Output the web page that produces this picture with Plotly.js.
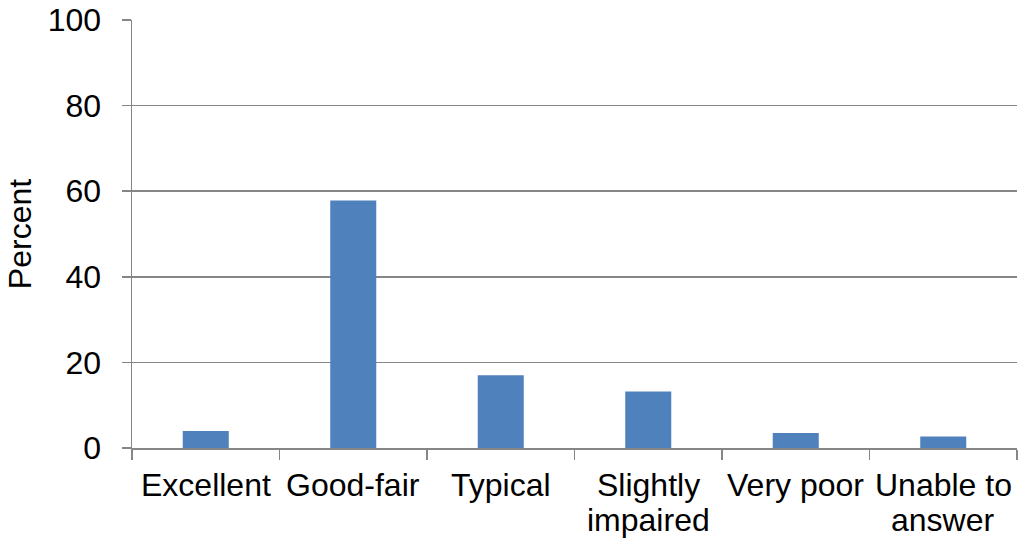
<!DOCTYPE html>
<html>
<head>
<meta charset="utf-8">
<script src="https://cdn.plot.ly/plotly-3.0.1.min.js"></script>
<style>html,body{margin:0;padding:0;background:#fff;}#chart{width:1019px;height:541px;}</style>
</head>
<body>
<div id="chart"></div>
<script>
const categories = ["Excellent", "Good-fair", "Typical", "Slightly impaired", "Very poor", "Unable to answer"];
const categoryLabelLines = [["Excellent"], ["Good-fair"], ["Typical"], ["Slightly", "impaired"], ["Very poor"], ["Unable to", "answer"]];
const percentValues = [4.0, 57.8, 17.0, 13.2, 3.5, 2.7];
const yTickValues = [0, 20, 40, 60, 80, 100];

const FONT = "Liberation Sans, Arial, sans-serif";
const GRAY = "#868686";

const annotations = [];
categories.forEach(function (cat, i) {
  categoryLabelLines[i].forEach(function (line, j) {
    annotations.push({
      x: cat, xref: "x",
      y: 0, yref: "paper",
      yanchor: "top", xanchor: "center",
      yshift: -18 - j * 35,
      borderpad: 0,
      text: line,
      showarrow: false,
      font: {family: FONT, size: 32, color: "#000"}
    });
  });
});

Plotly.newPlot("chart", [{
  type: "bar",
  x: categories,
  y: percentValues,
  marker: {color: "#4F81BD", line: {width: 0}},
  hoverinfo: "x+y"
}], {
  width: 1019,
  height: 541,
  margin: {l: 132, r: 2, t: 20, b: 93},
  paper_bgcolor: "#fff",
  plot_bgcolor: "#fff",
  bargap: 0.688,
  showlegend: false,
  font: {family: FONT, size: 32, color: "#000"},
  annotations: annotations,
  xaxis: {
    type: "category",
    showline: true,
    linecolor: GRAY,
    linewidth: 1.5,
    ticks: "outside",
    tickson: "boundaries",
    ticklen: 10,
    tickwidth: 1.5,
    tickcolor: GRAY,
    showgrid: false,
    showticklabels: false,
    automargin: false
  },
  yaxis: {
    range: [0, 100],
    tickvals: yTickValues,
    showline: true,
    linecolor: GRAY,
    linewidth: 1.5,
    ticks: "outside",
    ticklen: 9,
    tickwidth: 1.5,
    tickcolor: GRAY,
    showgrid: true,
    gridcolor: GRAY,
    gridwidth: 1.5,
    zeroline: false,
    ticklabelstandoff: 14,
    tickfont: {family: FONT, size: 32, color: "#000"},
    title: {text: "Percent", font: {family: FONT, size: 32, color: "#000"}, standoff: 6},
    automargin: false
  }
}, {displayModeBar: false, staticPlot: true});
</script>
</body>
</html>
